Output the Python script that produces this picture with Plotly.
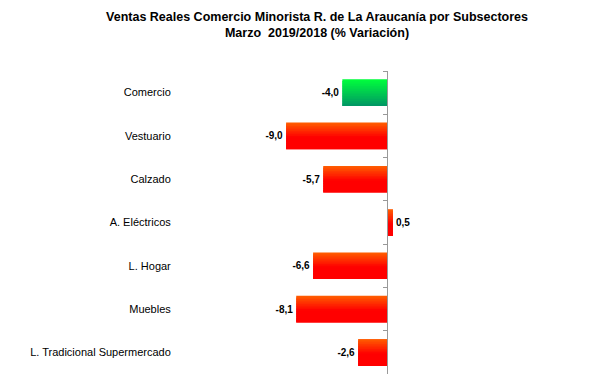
import plotly.graph_objects as go

# ---- data ----
categories = ["Comercio", "Vestuario", "Calzado", "A. Eléctricos", "L. Hogar", "Muebles",
              "L. Tradicional Supermercado"]
variation = [-4.0, -9.0, -5.7, 0.5, -6.6, -8.1, -2.6]
is_total = [True, False, False, False, False, False, False]
title_line1 = "Ventas Reales Comercio Minorista R. de La Araucanía por Subsectores"
title_line2 = "Marzo&nbsp; 2019/2018 (% Variación)"

labels = [f"{v:.1f}".replace(".", ",") for v in variation]

# ---- layout geometry ----
W, H = 603, 378
ML, MR, MT, MB = 180, 63, 71, 4
xrange = [-18.43, 13.57]
BAR_W = 0.615
N = 16


def lerp(c1, c2, t):
    return tuple(round(a + (b - a) * t) for a, b in zip(c1, c2))


def red_grad(t):
    if t < 0.55:
        c = lerp((255, 95, 0), (255, 0, 0), t / 0.55)
    else:
        c = (255, 0, 0)
    return "rgb(%d,%d,%d)" % c


def green_grad(t):
    c = lerp((0, 255, 60), (0, 150, 100), t)
    return "rgb(%d,%d,%d)" % c


fig = go.Figure()
slice_w = BAR_W / N
for k in range(N):
    t = (k + 0.5) / N
    colors = [green_grad(t) if tot else red_grad(t) for tot in is_total]
    start = k * slice_w
    fig.add_trace(go.Bar(
        x=variation, y=categories, orientation="h",
        width=min(2 * slice_w, BAR_W - start), offset=-BAR_W / 2 + start,
        marker=dict(color=colors, line=dict(width=0)),
        hoverinfo="skip", showlegend=False,
    ))

# label trace (transparent, full width)
fig.add_trace(go.Bar(
    x=variation, y=categories, orientation="h", width=BAR_W,
    marker=dict(color="rgba(0,0,0,0)", line=dict(width=0)),
    text=labels, textposition="outside", cliponaxis=False, constraintext="none",
    textfont=dict(family="Arial, Liberation Sans", size=10, color="black", weight="bold"),
    showlegend=False, hoverinfo="skip",
))

# invisible trace on second y axis for the zero-axis ticks
fig.add_trace(go.Scatter(
    x=[0] * len(categories), y=categories, yaxis="y2", mode="markers",
    marker=dict(opacity=0), hoverinfo="skip", showlegend=False,
))

zero_pos = (0 - xrange[0]) / (xrange[1] - xrange[0])

fig.update_layout(
    width=W, height=H,
    margin=dict(l=ML, r=MR, t=MT, b=MB),
    paper_bgcolor="white", plot_bgcolor="white",
    barmode="overlay",
    title=dict(
        text=f"<b>{title_line1}</b><br><b>{title_line2}</b>",
        x=317 / W, xanchor="center", xref="container",
        y=1 - 21 / H, yanchor="top", yref="container",
        font=dict(family="Arial, Liberation Sans", size=12.5, color="black"),
    ),
    xaxis=dict(range=xrange, visible=False, showgrid=False, zeroline=False,
               domain=[0, 1]),
    yaxis=dict(type="category", categoryorder="array", categoryarray=categories,
               autorange="reversed", showgrid=False, showline=False,
               ticks="outside", ticklen=6, tickcolor="rgba(0,0,0,0)",
               zeroline=False,
               tickfont=dict(family="Arial, Liberation Sans", size=11, color="black")),
    yaxis2=dict(type="category", categoryorder="array", categoryarray=categories,
                overlaying="y", matches="y", anchor="free", position=zero_pos, side="left",
                showline=True, linecolor="#999999", linewidth=1,
                ticks="outside", ticklen=4, tickcolor="#999999", tickson="boundaries",
                showticklabels=False, showgrid=False, zeroline=False),
)

fig.write_html("out.html", config={"displayModeBar": False},
               post_script="document.body.style.margin='0';")
